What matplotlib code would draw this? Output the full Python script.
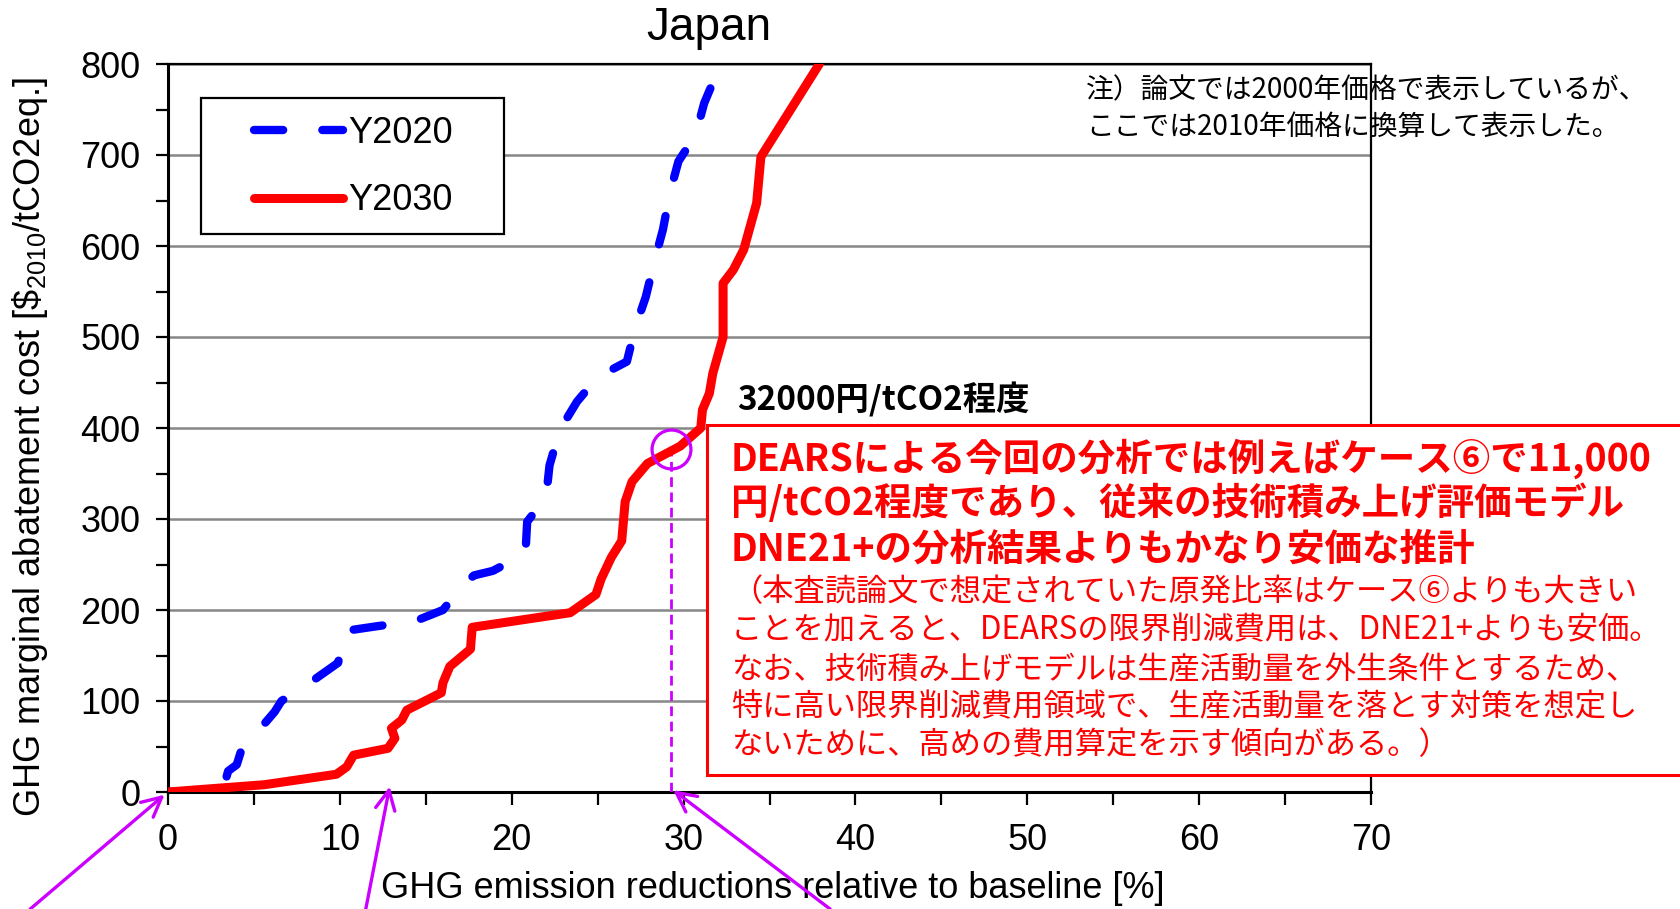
import matplotlib
matplotlib.use("Agg")
import matplotlib.pyplot as plt
from matplotlib.patches import Rectangle

plt.rcParams["font.family"] = ["Liberation Sans", "Noto Sans CJK JP"]
plt.rcParams["mathtext.fontset"] = "custom"
plt.rcParams["mathtext.rm"] = "Liberation Sans"
plt.rcParams["mathtext.it"] = "Liberation Sans:italic"
plt.rcParams["mathtext.bf"] = "Liberation Sans:bold"

# Y2030 marginal abatement cost curve
y2030_x = [0, 5.6, 9.8, 10.4, 10.8, 12.8, 13.2, 13.0, 13.6, 13.9, 15.9, 16.0, 16.4,
           17.6, 17.7, 23.4, 24.9, 25.2, 25.8, 26.4, 26.6, 27.0, 27.9, 29.8, 31.0,
           31.1, 31.5, 31.7, 32.3, 32.3, 32.9, 33.5, 34.25, 34.5, 37.9]
y2030_y = [0, 8, 19.5, 27.6, 40.5, 48, 59, 70, 79, 90, 109, 120, 138,
           157, 181, 197, 217, 234, 258, 276, 319, 341, 361, 380, 400,
           420, 438, 460, 500, 559, 574, 596, 647, 698, 800]

# Y2020 curve
y2020_x = [0, 3.2, 3.5, 4.0, 4.3, 5.7, 6.2, 6.6, 8.4, 9.9, 10.1, 10.3, 12.1, 14.4,
           16.0, 17.3, 17.8, 18.9, 20.8, 20.9, 22.0, 22.2, 22.8, 23.8, 25.0, 26.7,
           27.2, 27.8, 28.3, 28.8, 29.2, 29.7, 30.7, 31.2, 32.0, 32.3]
y2020_y = [0, 3, 23, 30, 48, 77, 88, 100, 122, 142, 160, 177, 182, 188,
           200, 230, 238, 243, 262, 297, 324, 359, 398, 429, 456, 473,
           511, 544, 583, 618, 658, 693, 722, 757, 793, 805]

x_ticks = list(range(0, 71, 10))
y_ticks = list(range(0, 801, 100))

# marked point (about 29% / 377 $/t) and arrows to the x axis
marked_x = 29.25
marked_y = 377
arrow_tip_x = [-0.2, 12.9, 29.4]
arrow_tip_y = [-3, 6, 2]
arrow_tail_fx = [0.018, 0.2176, 0.4938]

note_text = "注）論文では2000年価格で表示しているが、\nここでは2010年価格に換算して表示した。"
price_text = "32000円/tCO2程度"
box_bold_lines = [
    "DEARSによる今回の分析では例えばケース⑥で11,000",
    "円/tCO2程度であり、従来の技術積み上げ評価モデル",
    "DNE21+の分析結果よりもかなり安価な推計",
]
box_lines = [
    "（本査読論文で想定されていた原発比率はケース⑥よりも大きい",
    "ことを加えると、DEARSの限界削減費用は、DNE21+よりも安価。",
    "なお、技術積み上げモデルは生産活動量を外生条件とするため、",
    "特に高い限界削減費用領域で、生産活動量を落とす対策を想定し",
    "ないために、高めの費用算定を示す傾向がある。）",
]

W, H = 1681, 909
purple = "#CC00FF"
jp = ["Noto Sans CJK JP", "DejaVu Sans"]


def fx(px):
    return px / W


def fy(py):
    return 1 - py / H


def axx(px):
    return (px - 168) / 1203


def axy(py):
    return (792 - py) / 728


fig = plt.figure(figsize=(W / 100, H / 100), dpi=100)
ax = fig.add_axes([fx(168), fy(792), 1203 / W, 728 / H])

ax.plot(y2020_x, y2020_y, color="#0000FF", lw=6, ls=(0, (3.5, 4.7)),
        dash_capstyle="round", label="Y2020", zorder=3)
ax.plot(y2030_x, y2030_y, color="#FF0000", lw=6.5, solid_joinstyle="round",
        solid_capstyle="round", label="Y2030", zorder=3)

# purple marker + dashed drop line
ax.plot([marked_x, marked_x], [0, marked_y], color=purple, lw=2,
        ls=(0, (3.5, 2)), zorder=2.6)
ax.plot([marked_x], [marked_y], "o", ms=28, mfc="none", mec=purple, mew=2.3,
        zorder=4)

ax.set_xlim(0, 70)
ax.set_ylim(0, 800)
ax.set_xticks(x_ticks)
ax.set_xticks(range(5, 70, 10), minor=True)
ax.set_yticks(y_ticks)
ax.set_yticks(range(50, 800, 100), minor=True)
ax.tick_params(which="both", direction="out", length=9, width=1.6)
ax.tick_params(axis="x", labelsize=26, pad=13)
ax.tick_params(axis="y", labelsize=26, pad=11)
ax.yaxis.grid(True, color="#878787", lw=1.8)

for name, sp in ax.spines.items():
    sp.set_linewidth(2.2 if name in ("left", "bottom") else 1.6)

ax.set_xlabel("GHG emission reductions relative to baseline [%]", fontsize=26,
              va="center")
ax.xaxis.set_label_coords(axx(773), axy(888))
ax.set_ylabel(r"GHG marginal abatement cost [\$$_{2010}$/tCO2eq.]", fontsize=26,
              va="center")
ax.yaxis.set_label_coords(axx(30), axy(447))

# legend with a square frame
frame = Rectangle((axx(201.5), axy(233.7)), (504 - 201.5) / 1203,
                  (233.7 - 97.6) / 728, transform=ax.transAxes,
                  fc="white", ec="black", lw=1.6, zorder=5)
ax.add_artist(frame)
leg = ax.legend(loc="center", bbox_to_anchor=(axx(353.5), axy(167)),
                frameon=False, fontsize=26, handlelength=2.47,
                handletextpad=0.15, labelspacing=0.9, borderpad=0,
                borderaxespad=0)
leg.set_zorder(6)

fig.text(fx(709), fy(28), "Japan", fontsize=33, ha="center", va="center")

# note sits under the frame (spine drawn over it)
ax.text(fx(1086), fy(108.75), note_text, transform=fig.transFigure,
        fontsize=20, family=jp, ha="left", va="center", linespacing=1.28,
        zorder=2)

fig.text(fx(737.6), fy(400), price_text, fontsize=24, family=jp,
         fontweight="bold", ha="left", va="center")

box = Rectangle((fx(707.5), fy(775)), (1740 - 707.5) / W, (775 - 425) / H,
                transform=fig.transFigure, fc="white", ec="#FF0000", lw=2.2,
                zorder=5, clip_on=False)
ax.add_artist(box)

for line, py in zip(box_bold_lines, [459, 503.5, 549.5]):
    fig.text(fx(731), fy(py), line, fontsize=27, family=jp, fontweight="bold",
             color="#FF0000", ha="left", va="center")
for line, py in zip(box_lines, [592, 630, 670, 707, 745]):
    fig.text(fx(731), fy(py), line, fontsize=22.5, family=jp,
             color="#FF0000", ha="left", va="center")

for tx, ty, tail in zip(arrow_tip_x, arrow_tip_y, arrow_tail_fx):
    ax.annotate("", xy=(tx, ty), xycoords="data", xytext=(tail, 0),
                textcoords="figure fraction", annotation_clip=False,
                arrowprops=dict(arrowstyle="->,head_length=0.7,head_width=0.35",
                                color=purple, lw=2.4, shrinkA=0, shrinkB=0,
                                mutation_scale=20),
                zorder=7)

fig.savefig("out.png", dpi=100)
